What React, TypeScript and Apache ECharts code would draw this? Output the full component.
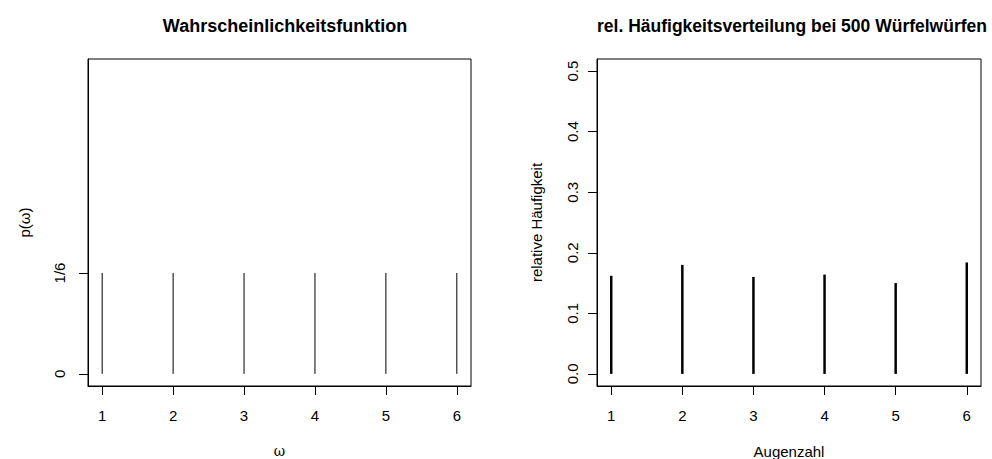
import React, { useEffect, useRef } from "react";
import * as echarts from "echarts";

// ---- data ----
const faces = [1, 2, 3, 4, 5, 6];
const probabilities = [1 / 6, 1 / 6, 1 / 6, 1 / 6, 1 / 6, 1 / 6];
const relFrequencies = [0.162, 0.18, 0.16, 0.164, 0.15, 0.184];

const xTicks = [1, 2, 3, 4, 5, 6];
const leftYTicks = [0, 1 / 6];
const leftYTickLabels = ["0", "1/6"];
const rightYTicks = [0, 0.1, 0.2, 0.3, 0.4, 0.5];
const rightYTickLabels = ["0.0", "0.1", "0.2", "0.3", "0.4", "0.5"];

const leftTitle = "Wahrscheinlichkeitsfunktion";
const rightTitle = "rel. Häufigkeitsverteilung bei 500 Würfelwürfen";
const leftXName = "ω";
const leftYName = "p(ω)";
const rightXName = "Augenzahl";
const rightYName = "relative Häufigkeit";

const FONT = "'Liberation Sans', Arial, Helvetica, sans-serif";

function spikeRenderer(width: number) {
  return (_params: any, api: any) => {
    const x = api.value(0);
    const y = api.value(1);
    const p0 = api.coord([x, 0]);
    const p1 = api.coord([x, y]);
    return {
      type: "line",
      shape: { x1: p0[0], y1: p0[1], x2: p1[0], y2: p1[1] },
      style: { stroke: "#000", lineWidth: width },
    };
  };
}

export default function App() {
  const ref = useRef<HTMLDivElement>(null);

  useEffect(() => {
    if (!ref.current) return;
    const chart = echarts.init(ref.current, null, { renderer: "svg" });

    const xAxisBase = (gridIndex: number, name: string, nameFont: string, nameSize: number) => ({
      type: "value" as const,
      gridIndex,
      position: "bottom" as const,
      min: 0.8,
      max: 6.2,
      name,
      nameLocation: "middle" as const,
      nameGap: 58,
      nameTextStyle: { color: "#000", fontFamily: nameFont, fontSize: nameSize },
      axisLine: { show: true, onZero: false, lineStyle: { color: "#000", width: 1 } },
      splitLine: { show: false },
      axisTick: {
        show: true,
        inside: false,
        length: 9,
        customValues: xTicks,
        lineStyle: { color: "#000", width: 1 },
      },
      axisLabel: {
        show: true,
        customValues: xTicks,
        margin: 22,
        color: "#000",
        fontFamily: FONT,
        fontSize: 15,
        formatter: (v: number) => String(v),
      },
    });

    const yAxisBase = (
      gridIndex: number,
      name: string,
      ticks: number[],
      labels: string[],
      margin: number,
      nameGap: number
    ) => ({
      type: "value" as const,
      gridIndex,
      position: "left" as const,
      min: -0.02,
      max: 0.52,
      name,
      nameLocation: "middle" as const,
      nameGap,
      nameTextStyle: { color: "#000", fontFamily: FONT, fontSize: 15 },
      axisLine: { show: true, onZero: false, lineStyle: { color: "#000", width: 1 } },
      splitLine: { show: false },
      axisTick: {
        show: true,
        inside: false,
        length: 9,
        customValues: ticks,
        lineStyle: { color: "#000", width: 1 },
      },
      axisLabel: {
        show: true,
        customValues: ticks,
        rotate: 90,
        margin,
        color: "#000",
        fontFamily: FONT,
        fontSize: 15,
        formatter: (v: number) => {
          const i = ticks.findIndex((t) => Math.abs(t - v) < 1e-9);
          return i >= 0 ? labels[i] : "";
        },
      },
    });

    chart.setOption({
      animation: false,
      backgroundColor: "#fff",
      title: [
        {
          text: leftTitle,
          left: 280,
          top: 12,
          textAlign: "center",
          textStyle: { fontFamily: FONT, fontSize: 18, fontWeight: "bold", color: "#000" },
        },
        {
          text: rightTitle,
          left: 787,
          top: 12,
          textAlign: "center",
          textStyle: { fontFamily: FONT, fontSize: 17.5, fontWeight: "bold", color: "#000" },
        },
      ],
      grid: [
        { left: 88, top: 59, width: 383, height: 327, show: true, borderColor: "#000", borderWidth: 1, backgroundColor: "transparent", outerBoundsMode: "none", containLabel: false },
        { left: 597, top: 59, width: 384, height: 327, show: true, borderColor: "#000", borderWidth: 1, backgroundColor: "transparent", outerBoundsMode: "none", containLabel: false },
      ],
      xAxis: [
        xAxisBase(0, leftXName, "'DejaVu Serif', 'Liberation Serif', serif", 14),
        xAxisBase(1, rightXName, FONT, 15),
      ],
      yAxis: [
        yAxisBase(0, leftYName, leftYTicks, leftYTickLabels, 21, 56),
        yAxisBase(1, rightYName, rightYTicks, rightYTickLabels, 17, 53),
      ],
      series: [
        {
          type: "custom",
          xAxisIndex: 0,
          yAxisIndex: 0,
          renderItem: spikeRenderer(1),
          encode: { x: 0, y: 1 },
          data: faces.map((f, i) => [f, probabilities[i]]),
        },
        {
          type: "custom",
          xAxisIndex: 1,
          yAxisIndex: 1,
          renderItem: spikeRenderer(2.5),
          encode: { x: 0, y: 1 },
          data: faces.map((f, i) => [f, relFrequencies[i]]),
        },
      ],
    });

    return () => chart.dispose();
  }, []);

  return (
    <div
      ref={ref}
      style={{ position: "absolute", left: 0, top: 0, width: 992, height: 459 }}
    />
  );
}
